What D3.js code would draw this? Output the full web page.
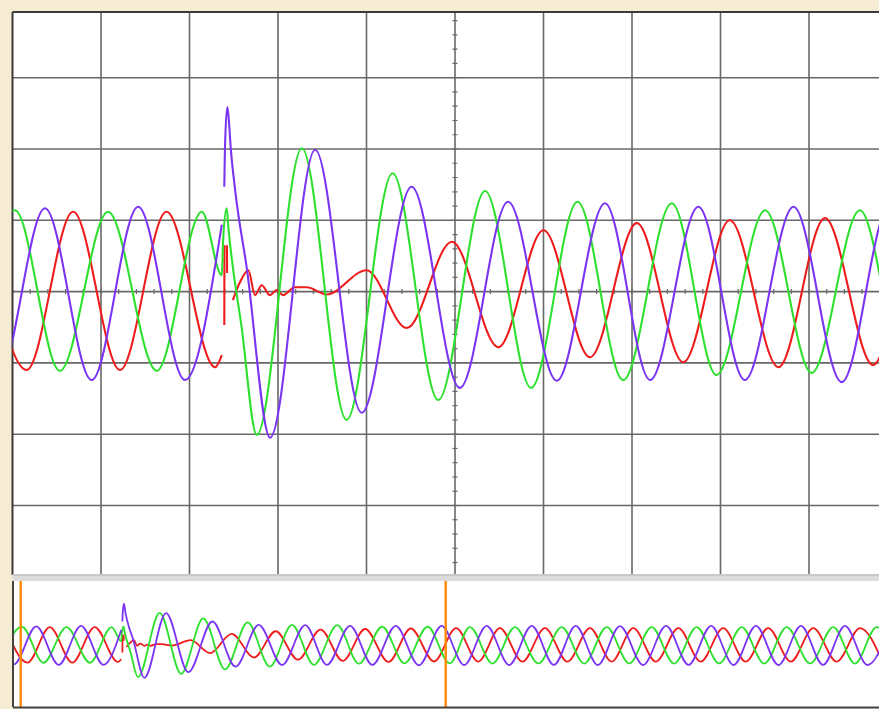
<!DOCTYPE html>
<html><head><meta charset="utf-8">
<script src="https://cdn.jsdelivr.net/npm/d3@7"></script>
<style>html,body{margin:0;padding:0;background:#f6ecd3;overflow:hidden}</style>
</head><body>
<svg id="c" width="879" height="709"></svg>
<script>
// Time in ms (main window = 0..200 ms, 10 divisions), value in divisions.
const purpleWave = [
  [-13.7,1.17],[-3.2,-1.21],[7.34,1.17],[17.9,-1.24],[28.4,1.19],[39.0,-1.24],[47.3,0.94],
  null,
  [47.86,1.47],[48.02,2.03],[48.54,2.59],[48.86,2.43],[49.3,2.03],[50.3,1.43],[52.9,0.35],
  [58.2,-2.05],[68.4,1.99],[78.9,-1.70],[90.2,1.47],[101.1,-1.35],[112.0,1.26],[123.0,-1.25],
  [133.9,1.24],[144.1,-1.24],[155.0,1.19],[165.5,-1.24],[176.5,1.19],[187.4,-1.27],
  [198.1,1.19],[208.7,-1.25],[219.3,1.19],[229.9,-1.25],[240.5,1.20],[250.9,-1.24],[261.2,1.19],
  [271.6,-1.25],[282.0,1.18],[292.9,-1.25],[303.7,1.19],[314.3,-1.24],[324.9,1.19],[335.5,-1.25],
  [346.0,1.20],[356.6,-1.25],[367.2,1.19],[377.6,-1.24],[387.9,1.19],[398.5,-1.25],[409.0,1.19]
];
const redWave = [
  [-7.3,1.11],[3.2,-1.10],[13.7,1.12],[24.3,-1.10],[34.8,1.12],[45.8,-1.06],[47.3,-0.89],
  null,
  [47.86,-0.47],[47.9,0.65],
  null,
  [48.45,0.65],[48.5,0.26],
  null,
  [49.8,-0.12],[51.4,0.13],[53.3,0.30],[54.8,-0.05],[56.3,0.09],[58.2,-0.05],[59.7,0.02],
  [61.1,-0.05],[63.8,0.06],[66.5,0.06],[71.0,-0.04],[80.0,0.30],[89.1,-0.51],[99.3,0.70],
  [109.8,-0.78],[120.0,0.86],[130.5,-0.92],[141.1,0.96],[151.6,-0.99],[162.1,1.00],[173.1,-1.06],
  [183.6,1.03],[194.5,-1.03],
  [204.9,1.05],[215.3,-1.04],[225.5,1.06],[236.1,-1.04],[246.7,1.05],[257.3,-1.04],[267.9,1.06],
  [278.1,-1.04],[288.3,1.05],[298.9,-1.04],[309.5,1.06],[320.0,-1.04],[330.6,1.05],[341.2,-1.04],
  [351.8,1.06],[362.4,-1.04],[373.0,1.05],[384.0,-1.04],[395.0,1.06],[405.5,-1.04]
];
const greenWave = [
  [-9.8,-1.11],[0.56,1.14],[10.7,-1.11],[21.6,1.12],[32.6,-1.11],[42.8,1.12],[47.3,0.23],
  [47.6,0.72],[48.4,1.17],[48.8,0.89],[51.8,-0.51],[55.2,-2.01],[65.4,2.01],[75.5,-1.80],
  [85.9,1.66],[96.2,-1.52],[106.8,1.41],[117.2,-1.35],[127.7,1.26],[138.0,-1.24],[149.0,1.24],
  [159.1,-1.17],[170.1,1.14],[180.6,-1.14],[191.5,1.14],
  [201.9,-1.15],[211.4,1.12],[222.0,-1.16],[232.6,1.12],[243.6,-1.15],[254.6,1.12],[265.2,-1.16],
  [275.8,1.12],[286.4,-1.15],[296.9,1.12],[307.5,-1.16],[318.1,1.12],[328.7,-1.15],[339.3,1.12],
  [349.9,-1.16],[360.5,1.12],[371.5,-1.15],[382.4,1.12],[392.6,-1.16],[402.8,1.12],[413.0,-1.15]
];
const cursorTimes = [0, 200];
const seriesColors = ["#7b35f2", "#ee1c1c", "#2ee02e"];

const svg = d3.select("#c");
const W = 879, H = 709;
svg.append("rect").attr("width", W).attr("height", H).attr("fill", "#f6ecd3");

// ---- main panel ----
const mainTop = 12, mainBottom = 575, mainLeft = 12.5;
const xMain = d3.scaleLinear().domain([0, 200]).range([12.5, 897.5]);
const yMain = d3.scaleLinear().domain([-4, 4]).range([576.8, 6.4]);

svg.append("rect").attr("x", mainLeft).attr("y", mainTop).attr("width", W - mainLeft + 10)
  .attr("height", mainBottom - mainTop).attr("fill", "#ffffff");

const defs = svg.append("defs");
defs.append("clipPath").attr("id", "clipMain").append("rect")
  .attr("x", mainLeft).attr("y", mainTop).attr("width", W).attr("height", mainBottom - mainTop);

const grid = svg.append("g").attr("clip-path", "url(#clipMain)");
grid.selectAll("line.v").data(d3.range(20, 200, 20)).join("line")
  .attr("x1", d => xMain(d)).attr("x2", d => xMain(d))
  .attr("y1", mainTop).attr("y2", mainBottom)
  .attr("stroke", "#686868").attr("stroke-width", 1.6);
grid.selectAll("line.h").data(d3.range(-3, 4, 1)).join("line")
  .attr("x1", mainLeft).attr("x2", W)
  .attr("y1", d => yMain(d)).attr("y2", d => yMain(d))
  .attr("stroke", "#686868").attr("stroke-width", 1.6);
grid.selectAll("line.tx").data(d3.range(0, 200.01, 4)).join("line")
  .attr("x1", d => xMain(d)).attr("x2", d => xMain(d))
  .attr("y1", yMain(0) - 2.5).attr("y2", yMain(0) + 2.5)
  .attr("stroke", "#686868").attr("stroke-width", 1.2);
grid.selectAll("line.ty").data(d3.range(-4, 4.01, 0.2)).join("line")
  .attr("x1", xMain(100) - 2.5).attr("x2", xMain(100) + 2.5)
  .attr("y1", d => yMain(d)).attr("y2", d => yMain(d))
  .attr("stroke", "#686868").attr("stroke-width", 1.2);

svg.append("line").attr("x1", mainLeft).attr("x2", mainLeft).attr("y1", mainTop).attr("y2", mainBottom)
  .attr("stroke", "#3a3a3a").attr("stroke-width", 2);
svg.append("line").attr("x1", mainLeft).attr("x2", W).attr("y1", mainTop).attr("y2", mainTop)
  .attr("stroke", "#3a3a3a").attr("stroke-width", 2);

const waves = [purpleWave, redWave, greenWave];

const lineMain = d3.line().defined(d => d !== null)
  .x(d => xMain(d[0])).y(d => yMain(d[1])).curve(d3.curveMonotoneX);
const traces = svg.append("g").attr("clip-path", "url(#clipMain)");
[1, 2, 0].forEach(i => {
  traces.append("path").attr("d", lineMain(waves[i]))
    .attr("fill", "none").attr("stroke", seriesColors[i]).attr("stroke-width", 2.1)
    .attr("stroke-linejoin", "round");
});

// ---- separator ----
svg.append("rect").attr("x", mainLeft).attr("y", 574).attr("width", W).attr("height", 7).attr("fill", "#dcdcdc");
svg.append("line").attr("x1", mainLeft).attr("x2", W).attr("y1", 575).attr("y2", 575)
  .attr("stroke", "#b5b5b5").attr("stroke-width", 1.2);

// ---- lower overview panel ----
const lowTop = 581, lowBottom = 707;
const xLow = d3.scaleLinear().domain([0, 200]).range([20.7, 445.7]);
const yLow = d3.scaleLinear().domain([-1, 1]).range([661, 629]);
svg.append("rect").attr("x", 13).attr("y", lowTop).attr("width", W).attr("height", lowBottom - lowTop).attr("fill", "#ffffff");
defs.append("clipPath").attr("id", "clipLow").append("rect")
  .attr("x", 13).attr("y", lowTop).attr("width", W).attr("height", lowBottom - lowTop);
const lineLow = d3.line().defined(d => d !== null)
  .x(d => xLow(d[0])).y(d => yLow(d[1])).curve(d3.curveMonotoneX);
const lowG = svg.append("g").attr("clip-path", "url(#clipLow)");
[1, 2, 0].forEach(i => {
  lowG.append("path").attr("d", lineLow(waves[i]))
    .attr("fill", "none").attr("stroke", seriesColors[i]).attr("stroke-width", 1.8)
    .attr("stroke-linejoin", "round");
});
lowG.selectAll("line.cur").data(cursorTimes).join("line")
  .attr("x1", d => xLow(d)).attr("x2", d => xLow(d))
  .attr("y1", lowTop - 1).attr("y2", lowBottom)
  .attr("stroke", "#ff8a00").attr("stroke-width", 2.4);
svg.append("line").attr("x1", 13).attr("x2", 13).attr("y1", lowTop).attr("y2", lowBottom)
  .attr("stroke", "#444").attr("stroke-width", 2);
svg.append("line").attr("x1", 13).attr("x2", W).attr("y1", lowBottom + 0.5).attr("y2", lowBottom + 0.5)
  .attr("stroke", "#444").attr("stroke-width", 2);
</script>
</body></html>
